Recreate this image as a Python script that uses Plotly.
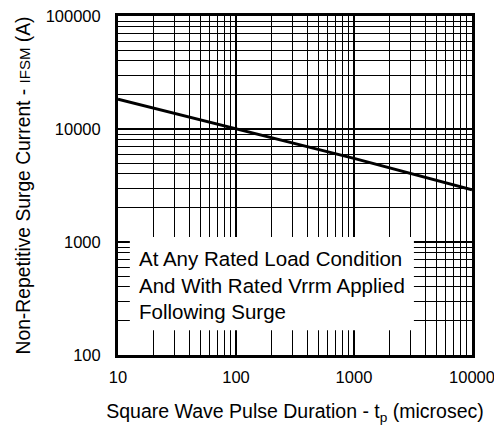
import plotly.graph_objects as go

# data
pulse_us = [10, 100, 1000, 10000]
ifsm_a = [18400, 10000, 5500, 2900]
x_ticks = [10, 100, 1000, 10000]
y_ticks = [100, 1000, 10000, 100000]
note_lines = ["At Any Rated Load Condition", "And With Rated Vrrm Applied", "Following Surge"]

FONT = "Liberation Sans, Arial, sans-serif"

fig = go.Figure()
fig.add_trace(go.Scatter(x=pulse_us, y=ifsm_a, mode="lines",
                         line=dict(color="black", width=3), showlegend=False,
                         hoverinfo="skip"))

axis_common = dict(
    type="log", showline=True, mirror=True, linecolor="black", linewidth=3,
    showgrid=True, gridcolor="black", gridwidth=2, ticks="", zeroline=False,
    minor=dict(showgrid=True, gridcolor="black", gridwidth=1, dtick="D1"),
    tickfont=dict(family=FONT, size=16.5, color="black"),
    automargin=False,
)

fig.update_xaxes(range=[1, 4.0002], tickvals=x_ticks, ticktext=[str(v) for v in x_ticks],
                 ticklabelstandoff=5, ticklabeloverflow="allow",
                 title=dict(text="Square Wave Pulse Duration - t<sub>p</sub> (microsec)",
                            font=dict(family=FONT, size=19.5, color="black"), standoff=20),
                 **axis_common)
fig.update_yaxes(range=[2, 5], tickvals=y_ticks, ticktext=[str(v) for v in y_ticks],
                 ticklabelstandoff=11,
                 title=dict(text="Non-Repetitive Surge Current - <span style='font-size:15px'>IFSM</span> (A)",
                            font=dict(family=FONT, size=19.3, color="black"), standoff=10),
                 **axis_common)

# white note box covering the grid (shape coords are data values on log axes)
fig.add_shape(type="rect", xref="x", yref="y", x0=12.6, x1=3220, y0=166, y1=1110,
              fillcolor="white", line=dict(width=0), layer="above")
fig.add_annotation(xref="paper", yref="paper", x=0.055, y=0.207, xanchor="left", yanchor="middle",
                   align="left", showarrow=False, text="<br>".join(note_lines),
                   font=dict(family=FONT, size=20.5, color="black"))

fig.update_layout(width=494, height=435, margin=dict(l=118, r=22, t=16, b=80),
                  plot_bgcolor="white", paper_bgcolor="white",
                  font=dict(family=FONT, color="black"))
fig.write_html("out.html")
